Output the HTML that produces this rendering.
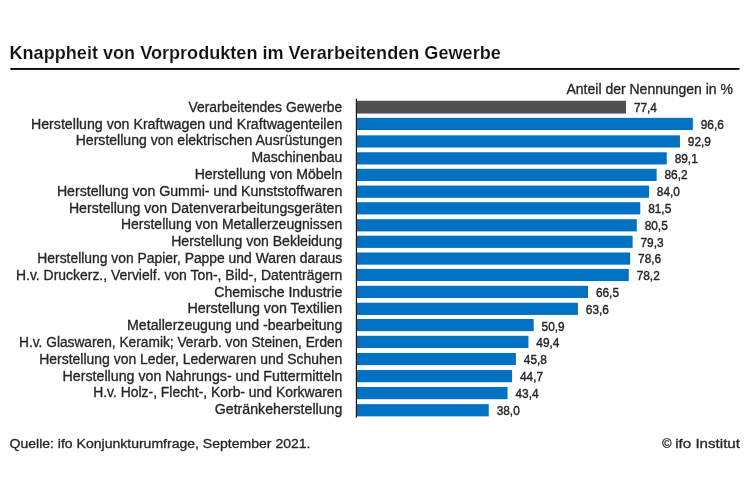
<!DOCTYPE html>
<html lang="de">
<head>
<meta charset="utf-8">
<title>Knappheit von Vorprodukten im Verarbeitenden Gewerbe</title>
<style>
html,body{margin:0;padding:0;background:#fff;}
body{width:750px;height:482px;overflow:hidden;}
svg{display:block;}
svg text{font-family:"Liberation Sans",sans-serif;white-space:pre;stroke-linejoin:round;}
svg text.t{font-weight:bold;fill:#111111;stroke:#fff;stroke-width:0.14px;}
svg text.r{fill:#26262b;stroke:#26262b;stroke-width:0.32px;}
svg text.v{fill:#26262b;stroke:#26262b;stroke-width:0.42px;}
</style>
</head>
<body>
<svg xmlns="http://www.w3.org/2000/svg" width="750" height="482" viewBox="0 0 750 482">
<rect x="0" y="0" width="750" height="482" fill="#ffffff"/>
<text id="title" class="t" x="9.50" y="59.40" font-size="18.7" textLength="491.30" lengthAdjust="spacingAndGlyphs">Knappheit von Vorprodukten im Verarbeitenden Gewerbe</text>
<rect x="10.3" y="68.0" width="729.2" height="1.9" fill="#0a0a0a"/>
<text id="hdr" class="r" x="566.50" y="93.70" font-size="13.95" textLength="166.50" lengthAdjust="spacingAndGlyphs">Anteil der Nennungen in %</text>
<rect x="356.40" y="100.75" width="269.58" height="12.8" fill="#505050"/>
<text id="l0" class="r" x="188.50" y="111.90" font-size="13.95" textLength="153.80" lengthAdjust="spacingAndGlyphs">Verarbeitendes Gewerbe</text>
<text id="v0" class="v" x="633.88" y="112.20" font-size="13.4" textLength="23.10" lengthAdjust="spacingAndGlyphs">77,4</text>
<rect x="356.40" y="117.85" width="336.46" height="12.2" fill="#0071c3"/>
<text id="l1" class="r" x="31.00" y="128.69" font-size="13.95" textLength="311.30" lengthAdjust="spacingAndGlyphs">Herstellung von Kraftwagen und Kraftwagenteilen</text>
<text id="v1" class="v" x="700.76" y="129.00" font-size="13.4" textLength="23.10" lengthAdjust="spacingAndGlyphs">96,6</text>
<rect x="356.40" y="135.35" width="323.57" height="12.2" fill="#0071c3"/>
<text id="l2" class="r" x="75.70" y="145.49" font-size="13.95" textLength="266.60" lengthAdjust="spacingAndGlyphs">Herstellung von elektrischen Ausrüstungen</text>
<text id="v2" class="v" x="687.87" y="145.79" font-size="13.4" textLength="23.10" lengthAdjust="spacingAndGlyphs">92,9</text>
<rect x="356.40" y="152.25" width="310.34" height="12.2" fill="#0071c3"/>
<text id="l3" class="r" x="251.40" y="162.29" font-size="13.95" textLength="90.90" lengthAdjust="spacingAndGlyphs">Maschinenbau</text>
<text id="v3" class="v" x="674.64" y="162.59" font-size="13.4" textLength="23.10" lengthAdjust="spacingAndGlyphs">89,1</text>
<rect x="356.40" y="168.80" width="300.23" height="12.2" fill="#0071c3"/>
<text id="l4" class="r" x="194.70" y="179.08" font-size="13.95" textLength="147.60" lengthAdjust="spacingAndGlyphs">Herstellung von Möbeln</text>
<text id="v4" class="v" x="664.53" y="179.38" font-size="13.4" textLength="23.10" lengthAdjust="spacingAndGlyphs">86,2</text>
<rect x="356.40" y="185.60" width="292.57" height="12.2" fill="#0071c3"/>
<text id="l5" class="r" x="56.90" y="195.88" font-size="13.95" textLength="285.40" lengthAdjust="spacingAndGlyphs">Herstellung von Gummi- und Kunststoffwaren</text>
<text id="v5" class="v" x="656.87" y="196.18" font-size="13.4" textLength="23.10" lengthAdjust="spacingAndGlyphs">84,0</text>
<rect x="356.40" y="202.20" width="283.86" height="12.2" fill="#0071c3"/>
<text id="l6" class="r" x="68.90" y="212.67" font-size="13.95" textLength="273.40" lengthAdjust="spacingAndGlyphs">Herstellung von Datenverarbeitungsgeräten</text>
<text id="v6" class="v" x="648.16" y="212.97" font-size="13.4" textLength="23.10" lengthAdjust="spacingAndGlyphs">81,5</text>
<rect x="356.40" y="219.20" width="280.38" height="12.2" fill="#0071c3"/>
<text id="l7" class="r" x="121.00" y="229.47" font-size="13.95" textLength="221.30" lengthAdjust="spacingAndGlyphs">Herstellung von Metallerzeugnissen</text>
<text id="v7" class="v" x="644.68" y="229.77" font-size="13.4" textLength="23.10" lengthAdjust="spacingAndGlyphs">80,5</text>
<rect x="356.40" y="235.70" width="276.20" height="12.2" fill="#0071c3"/>
<text id="l8" class="r" x="171.20" y="246.26" font-size="13.95" textLength="171.10" lengthAdjust="spacingAndGlyphs">Herstellung von Bekleidung</text>
<text id="v8" class="v" x="640.50" y="246.56" font-size="13.4" textLength="23.10" lengthAdjust="spacingAndGlyphs">79,3</text>
<rect x="356.40" y="252.45" width="273.76" height="12.2" fill="#0071c3"/>
<text id="l9" class="r" x="37.30" y="263.06" font-size="13.95" textLength="305.00" lengthAdjust="spacingAndGlyphs">Herstellung von Papier, Pappe und Waren daraus</text>
<text id="v9" class="v" x="638.06" y="263.36" font-size="13.4" textLength="23.10" lengthAdjust="spacingAndGlyphs">78,6</text>
<rect x="356.40" y="268.90" width="272.37" height="12.2" fill="#0071c3"/>
<text id="l10" class="r" x="16.00" y="279.85" font-size="13.95" textLength="326.30" lengthAdjust="spacingAndGlyphs">H.v. Druckerz., Vervielf. von Ton-, Bild-, Datenträgern</text>
<text id="v10" class="v" x="636.67" y="280.15" font-size="13.4" textLength="23.10" lengthAdjust="spacingAndGlyphs">78,2</text>
<rect x="356.40" y="285.80" width="231.62" height="12.2" fill="#0071c3"/>
<text id="l11" class="r" x="214.30" y="296.64" font-size="13.95" textLength="128.00" lengthAdjust="spacingAndGlyphs">Chemische Industrie</text>
<text id="v11" class="v" x="595.92" y="296.94" font-size="13.4" textLength="23.10" lengthAdjust="spacingAndGlyphs">66,5</text>
<rect x="356.40" y="302.75" width="221.52" height="12.2" fill="#0071c3"/>
<text id="l12" class="r" x="187.50" y="313.44" font-size="13.95" textLength="154.80" lengthAdjust="spacingAndGlyphs">Herstellung von Textilien</text>
<text id="v12" class="v" x="585.82" y="313.74" font-size="13.4" textLength="23.10" lengthAdjust="spacingAndGlyphs">63,6</text>
<rect x="356.40" y="318.95" width="177.28" height="12.2" fill="#0071c3"/>
<text id="l13" class="r" x="127.10" y="330.24" font-size="13.95" textLength="215.20" lengthAdjust="spacingAndGlyphs">Metallerzeugung und -bearbeitung</text>
<text id="v13" class="v" x="541.58" y="330.54" font-size="13.4" textLength="23.10" lengthAdjust="spacingAndGlyphs">50,9</text>
<rect x="356.40" y="335.80" width="172.06" height="12.2" fill="#0071c3"/>
<text id="l14" class="r" x="19.00" y="347.03" font-size="13.95" textLength="323.30" lengthAdjust="spacingAndGlyphs">H.v. Glaswaren, Keramik; Verarb. von Steinen, Erden</text>
<text id="v14" class="v" x="536.36" y="347.33" font-size="13.4" textLength="23.10" lengthAdjust="spacingAndGlyphs">49,4</text>
<rect x="356.40" y="352.95" width="159.52" height="12.2" fill="#0071c3"/>
<text id="l15" class="r" x="39.30" y="363.83" font-size="13.95" textLength="303.00" lengthAdjust="spacingAndGlyphs">Herstellung von Leder, Lederwaren und Schuhen</text>
<text id="v15" class="v" x="523.82" y="364.13" font-size="13.4" textLength="23.10" lengthAdjust="spacingAndGlyphs">45,8</text>
<rect x="356.40" y="370.05" width="155.69" height="12.2" fill="#0071c3"/>
<text id="l16" class="r" x="62.60" y="380.62" font-size="13.95" textLength="279.70" lengthAdjust="spacingAndGlyphs">Herstellung von Nahrungs- und Futtermitteln</text>
<text id="v16" class="v" x="519.99" y="380.92" font-size="13.4" textLength="23.10" lengthAdjust="spacingAndGlyphs">44,7</text>
<rect x="356.40" y="387.00" width="151.16" height="12.2" fill="#0071c3"/>
<text id="l17" class="r" x="93.20" y="397.42" font-size="13.95" textLength="249.10" lengthAdjust="spacingAndGlyphs">H.v. Holz-, Flecht-, Korb- und Korkwaren</text>
<text id="v17" class="v" x="515.46" y="397.72" font-size="13.4" textLength="23.10" lengthAdjust="spacingAndGlyphs">43,4</text>
<rect x="356.40" y="404.15" width="132.35" height="12.2" fill="#0071c3"/>
<text id="l18" class="r" x="214.80" y="414.21" font-size="13.95" textLength="127.50" lengthAdjust="spacingAndGlyphs">Getränkeherstellung</text>
<text id="v18" class="v" x="496.65" y="414.51" font-size="13.4" textLength="23.10" lengthAdjust="spacingAndGlyphs">38,0</text>
<rect x="355.80" y="98.6" width="1.2" height="319.1" fill="#1a1a1a"/>
<text id="src" class="r" x="9.50" y="447.80" font-size="13.7" textLength="301.00" lengthAdjust="spacingAndGlyphs">Quelle: ifo Konjunkturumfrage, September 2021.</text>
<text id="cr" class="r" y="447.8" font-size="13.7"><tspan x="662.2" dy="0.5" font-size="12.6">©</tspan> <tspan x="675.2" dy="-0.5" textLength="64.8" lengthAdjust="spacingAndGlyphs">ifo Institut</tspan></text>
</svg>
</body>
</html>
